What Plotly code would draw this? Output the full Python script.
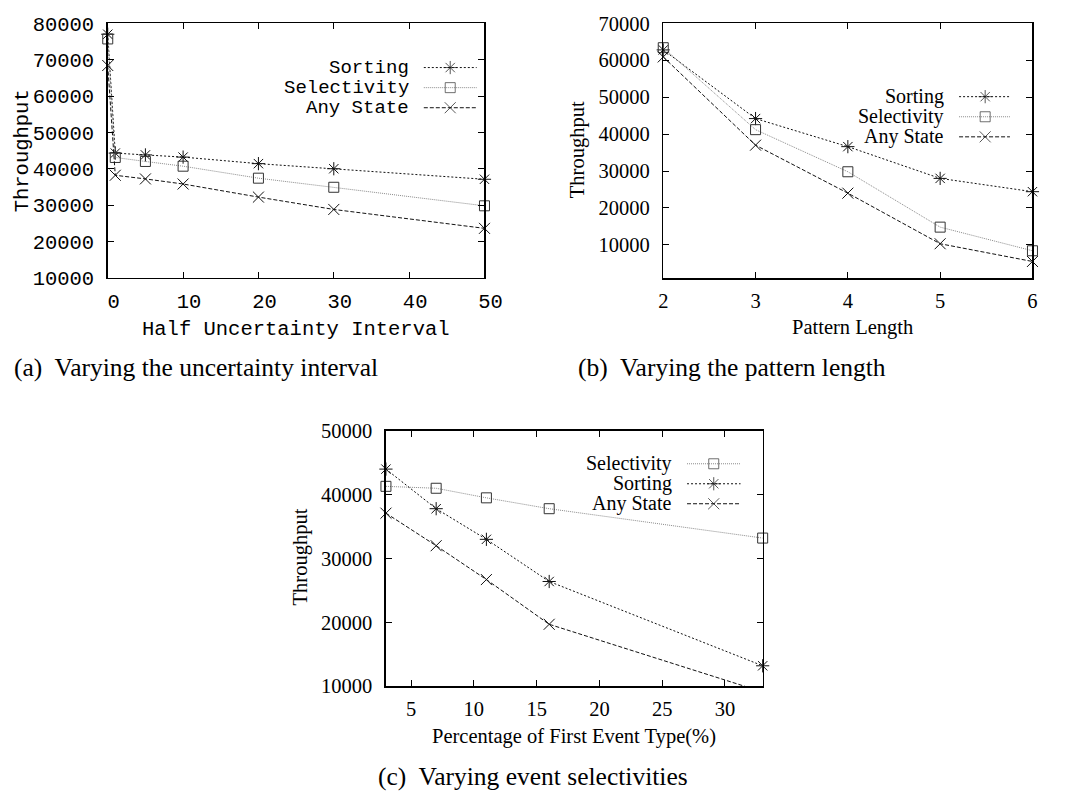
import plotly.graph_objects as go

W, H = 1071, 804

# ---------------- data ----------------
# (a) Varying the uncertainty interval
a_x = [0, 1, 5, 10, 20, 30, 50]
a_sorting = [77000, 44300, 43800, 43200, 41400, 40000, 37100]
a_selectivity = [75700, 43100, 42000, 40700, 37400, 34900, 29800]
a_anystate = [68400, 38200, 37200, 35800, 32200, 28800, 23600]

# (b) Varying the pattern length
b_x = [2, 3, 4, 5, 6]
b_sorting = [62800, 44200, 36600, 28000, 24400]
b_selectivity = [63400, 41200, 29800, 14800, 8400]
b_anystate = [60900, 37000, 24000, 10300, 5500]

# (c) Varying event selectivities
c_x = [3, 7, 11, 16, 33]
c_selectivity = [41300, 41000, 39500, 37800, 33200]
c_sorting = [44000, 37800, 33000, 26400, 13200]
c_anystate = [37100, 32000, 26700, 19700, 9100]

# ---------------- styles ----------------
MONO = "Liberation Mono"
SERIF = "Liberation Serif"
STYLE = {
    "Sorting": dict(dash="2px,2px", color="#111111", mcolor="#111111", symbol="asterisk-open", size=11),
    "Selectivity": dict(dash="1px,1px", color="#8a8a8a", mcolor="#333333", symbol="square-open", size=10),
    "Any State": dict(dash="4px,2px", color="#111111", mcolor="#111111", symbol="x-thin-open", size=11),
}


def px(x):
    return x / W


def py(y):
    return 1 - y / H


fig = go.Figure()


def add_series(name, xs, ys, xa, ya):
    s = STYLE[name]
    fig.add_trace(go.Scatter(
        x=xs, y=ys, mode="lines+markers", name=name, showlegend=False,
        xaxis=xa, yaxis=ya, cliponaxis=False,
        line=dict(color=s["color"], width=1, dash=s["dash"]),
        marker=dict(symbol=s["symbol"], size=s["size"], color=s["mcolor"],
                    line=dict(color=s["mcolor"], width=1)),
    ))


panels = [
    dict(xa="x", ya="y", box=(105, 490, 12.7, 275), font=MONO, fsize=20.5, lsize=19,
         series=[("Sorting", a_x, a_sorting), ("Selectivity", a_x, a_selectivity),
                 ("Any State", a_x, a_anystate)],
         xrange=[0, 50], xdtick=10, yrange=[10000, 80000],
         xtitle=("Half Uncertainty Interval", 297, 328),
         ytitle=(18, 144),
         caption=("(a)  Varying the uncertainty interval", 195, 367),
         legend=dict(text_right=415, key=(428, 455, 482), rows=(58.3, 79, 99.7)),
         kx="x4", ky="y4", xshift=6),
    dict(xa="x2", ya="y2", box=(672.7, 1050, 12.7, 275.3), font=SERIF, fsize=20.5, lsize=20,
         series=[("Sorting", b_x, b_sorting), ("Selectivity", b_x, b_selectivity),
                 ("Any State", b_x, b_anystate)],
         xrange=[2, 6], xdtick=1, yrange=[1000, 70000],
         xtitle=("Pattern Length", 866, 326.7),
         ytitle=(585, 143),
         caption=("(b)  Varying the pattern length", 743, 367),
         legend=dict(text_right=962, key=(975, 1001.7, 1027), rows=(88.3, 109, 129.7)),
         kx="x5", ky="y5", xshift=0),
    dict(xa="x3", ya="y3", box=(389.3, 774.3, 432.7, 696), font=SERIF, fsize=20.5, lsize=20,
         series=[("Selectivity", c_x, c_selectivity), ("Sorting", c_x, c_sorting),
                 ("Any State", c_x, c_anystate)],
         xrange=[3, 33], xdtick=5, yrange=[10000, 50000],
         xtitle=("Percentage of First Event Type(%)", 581.7, 748.3),
         ytitle=(301.7, 563),
         caption=("(c)  Varying event selectivities", 540, 789),
         legend=dict(text_right=683.3, key=(697, 724.3, 751.7), rows=(466.7, 487.3, 507.9)),
         kx="x6", ky="y6", xshift=0),
]

annotations = []
layout_axes = {}

for p in panels:
    x0, x1, y0, y1 = p["box"]
    xdom = [px(x0), px(x1)]
    ydom = [py(y1), py(y0)]
    for name, xs, ys in p["series"]:
        add_series(name, xs, ys, p["xa"], p["ya"])

    xkey = "xaxis" + p["xa"][1:]
    ykey = "yaxis" + p["ya"][1:]
    common = dict(showline=True, linecolor="black", linewidth=1.5, mirror="ticks",
                  ticks="inside", ticklen=6, tickwidth=1, tickcolor="black",
                  showgrid=False, zeroline=False, fixedrange=True, tickformat="d",
                  tickfont=dict(family=p["font"], size=p["fsize"], color="black"))
    layout_axes[xkey] = dict(domain=xdom, anchor=p["ya"], range=p["xrange"],
                             dtick=p["xdtick"], tick0=0, ticklabelstandoff=4,
                             ticklabelshift=p["xshift"], **common)
    layout_axes[ykey] = dict(domain=ydom, anchor=p["xa"], range=p["yrange"],
                             dtick=10000, tick0=0, ticklabelstandoff=8, **common)

    # legend key axes (hidden overlays, 0..1 across the plot box)
    kxkey = "xaxis" + p["kx"][1:]
    kykey = "yaxis" + p["ky"][1:]
    layout_axes[kxkey] = dict(overlaying=p["xa"], anchor=p["ky"], range=[0, 1],
                              visible=False, fixedrange=True)
    layout_axes[kykey] = dict(overlaying=p["ya"], anchor=p["kx"], range=[0, 1],
                              visible=False, fixedrange=True)

    lg = p["legend"]
    ka, km, kb = lg["key"]
    for (name, _, _), row in zip(p["series"], lg["rows"]):
        s = STYLE[name]
        fx = [(ka - x0) / (x1 - x0), (km - x0) / (x1 - x0), (kb - x0) / (x1 - x0)]
        fy = (y1 - row) / (y1 - y0)
        fig.add_trace(go.Scatter(
            x=fx, y=[fy] * 3, mode="lines+markers", showlegend=False, hoverinfo="skip",
            xaxis=p["kx"], yaxis=p["ky"], cliponaxis=False,
            line=dict(color=s["color"], width=1, dash=s["dash"]),
            marker=dict(symbol=s["symbol"], size=[0, s["size"], 0], color=s["mcolor"],
                        line=dict(color=s["mcolor"], width=1)),
        ))
        annotations.append(dict(text=name, x=px(lg["text_right"]), y=py(row), xref="paper", yref="paper",
                                xanchor="right", yanchor="middle", showarrow=False,
                                font=dict(family=p["font"], size=p["lsize"], color="black")))

    t, tx, ty = p["xtitle"]
    annotations.append(dict(text=t, x=px(tx), y=py(ty), xref="paper", yref="paper",
                            xanchor="center", yanchor="middle", showarrow=False,
                            font=dict(family=p["font"], size=p["fsize"], color="black")))
    yx, yy = p["ytitle"]
    annotations.append(dict(text="Throughput", x=px(yx), y=py(yy), xref="paper", yref="paper",
                            xanchor="center", yanchor="middle", showarrow=False, textangle=-90,
                            font=dict(family=p["font"], size=p["fsize"], color="black")))
    c, cx, cy = p["caption"]
    annotations.append(dict(text=c.replace("  ", "&nbsp; "), x=px(cx), y=py(cy), xref="paper", yref="paper",
                            xanchor="center", yanchor="middle", showarrow=False,
                            font=dict(family=SERIF, size=25.5, color="black")))

fig.update_layout(
    width=W, height=H, margin=dict(l=0, r=0, t=0, b=0),
    paper_bgcolor="white", plot_bgcolor="rgba(0,0,0,0)",
    showlegend=False, annotations=annotations, **layout_axes,
)

fig.write_html(
    "out.html",
    config={"displayModeBar": False, "staticPlot": True},
    post_script="document.body.style.margin='0';document.body.style.overflow='hidden';",
)
